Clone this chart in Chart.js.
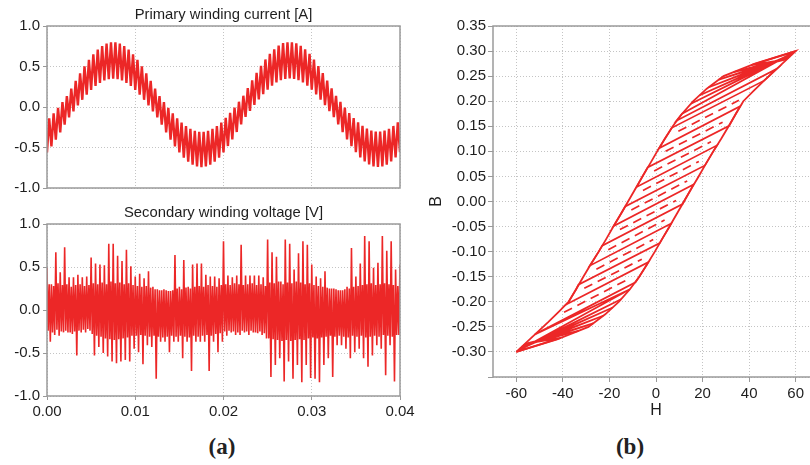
<!DOCTYPE html>
<html>
<head>
<meta charset="utf-8">
<script src="https://cdn.jsdelivr.net/npm/chart.js@4.4.0/dist/chart.umd.min.js"></script>
<style>
  html, body { margin: 0; padding: 0; background: #fff; overflow: hidden; }
  body { width: 810px; height: 465px; position: relative; }
  canvas { position: absolute; }
  .tag { position: absolute; font-family: "Liberation Serif", serif; font-weight: bold; font-size: 23px; color: #222; transform: translate(-50%, -50%); }
</style>
</head>
<body>
<canvas id="current" width="420" height="200" style="left:0;top:0"></canvas>
<canvas id="voltage" width="420" height="232" style="left:0;top:198px"></canvas>
<canvas id="loop" width="430" height="430" style="left:400px;top:0"></canvas>
<div class="tag" style="left:222px;top:447px">(a)</div>
<div class="tag" style="left:630px;top:447px">(b)</div>
<script>
// primary current: ripple troughs and peaks, one every 0.25 ms
const sampleStep = 0.00025;
const currentValues = [
  -0.561, -0.139, -0.487, -0.078, -0.404, -0.011, -0.314, 0.060, -0.219, 0.134,
  -0.128, 0.227, -0.053, 0.323, 0.020, 0.416, 0.089, 0.503, 0.153, 0.582,
  0.210, 0.651, 0.259, 0.708, 0.298, 0.752, 0.327, 0.783, 0.344, 0.797,
  0.350, 0.797, 0.344, 0.783, 0.327, 0.752, 0.298, 0.708, 0.259, 0.651,
  0.210, 0.582, 0.153, 0.503, 0.089, 0.416, 0.020, 0.323, -0.053, 0.227,
  -0.128, 0.134, -0.219, 0.060, -0.314, -0.011, -0.404, -0.078, -0.487, -0.139,
  -0.561, -0.192, -0.625, -0.236, -0.675, -0.270, -0.713, -0.294, -0.735, -0.305,
  -0.743, -0.305, -0.735, -0.294, -0.713, -0.270, -0.675, -0.236, -0.625, -0.192,
  -0.561, -0.134, -0.482, -0.073, -0.399, -0.006, -0.309, 0.065, -0.214, 0.139,
  -0.123, 0.232, -0.048, 0.328, 0.025, 0.421, 0.094, 0.508, 0.158, 0.587,
  0.215, 0.656, 0.264, 0.713, 0.303, 0.757, 0.332, 0.788, 0.347, 0.800,
  0.352, 0.800, 0.347, 0.786, 0.330, 0.756, 0.302, 0.712, 0.262, 0.655,
  0.214, 0.585, 0.156, 0.506, 0.092, 0.419, 0.023, 0.326, -0.050, 0.230,
  -0.125, 0.137, -0.216, 0.063, -0.311, -0.008, -0.401, -0.075, -0.484, -0.136,
  -0.558, -0.189, -0.622, -0.233, -0.672, -0.267, -0.710, -0.291, -0.733, -0.302,
  -0.741, -0.303, -0.733, -0.292, -0.711, -0.268, -0.673, -0.234, -0.623, -0.190,
  -0.559
];

// secondary voltage, per ripple cycle (0.5 ms): spike top, band low, band high, spike bottom
const cycleLength = 0.0005;
const voltageHigh = [
  0.49, 0.30, 0.67, 0.44, 0.73, 0.38, 0.38, 0.41, 0.38, 0.39,
  0.61, 0.54, 0.53, 0.52, 0.77, 0.77, 0.63, 0.57, 0.70, 0.51,
  0.39, 0.42, 0.37, 0.45, 0.27, 0.24, 0.23, 0.23, 0.22, 0.64,
  0.27, 0.58, 0.27, 0.53, 0.54, 0.54, 0.41, 0.39, 0.39, 0.37,
  0.80, 0.40, 0.38, 0.40, 0.76, 0.40, 0.40, 0.40, 0.40, 0.38,
  0.82, 0.67, 0.62, 0.33, 0.82, 0.77, 0.47, 0.66, 0.80, 0.76,
  0.53, 0.39, 0.37, 0.45, 0.25, 0.25, 0.23, 0.23, 0.27, 0.72,
  0.39, 0.54, 0.86, 0.80, 0.49, 0.55, 0.86, 0.69, 0.80, 0.47
];
const voltageLow = [
  -0.37, -0.29, -0.30, -0.26, -0.26, -0.28, -0.53, -0.26, -0.26, -0.24,
  -0.53, -0.43, -0.50, -0.54, -0.60, -0.62, -0.60, -0.58, -0.60, -0.45,
  -0.49, -0.63, -0.41, -0.43, -0.80, -0.37, -0.37, -0.49, -0.37, -0.37,
  -0.56, -0.37, -0.71, -0.37, -0.37, -0.37, -0.71, -0.37, -0.49, -0.37,
  -0.30, -0.26, -0.29, -0.29, -0.26, -0.29, -0.26, -0.27, -0.29, -0.33,
  -0.78, -0.64, -0.56, -0.83, -0.60, -0.80, -0.64, -0.84, -0.64, -0.79,
  -0.80, -0.84, -0.64, -0.56, -0.78, -0.41, -0.41, -0.45, -0.56, -0.49,
  -0.45, -0.56, -0.66, -0.53, -0.41, -0.45, -0.76, -0.41, -0.83, -0.29
];
const bandHigh = [
  0.30, 0.28, 0.31, 0.29, 0.30, 0.27, 0.29, 0.30, 0.28, 0.29,
  0.31, 0.30, 0.32, 0.30, 0.33, 0.31, 0.32, 0.30, 0.31, 0.29,
  0.28, 0.27, 0.28, 0.26, 0.24, 0.23, 0.24, 0.22, 0.23, 0.25,
  0.24, 0.26, 0.25, 0.27, 0.28, 0.27, 0.29, 0.28, 0.27, 0.29,
  0.30, 0.29, 0.31, 0.30, 0.29, 0.30, 0.31, 0.29, 0.30, 0.28,
  0.32, 0.31, 0.33, 0.30, 0.32, 0.31, 0.33, 0.32, 0.30, 0.31,
  0.29, 0.28, 0.27, 0.26, 0.25, 0.24, 0.23, 0.24, 0.25, 0.27,
  0.28, 0.29, 0.30, 0.31, 0.29, 0.30, 0.31, 0.30, 0.29, 0.28
];
const bandLow = [
  -0.24, -0.26, -0.23, -0.25, -0.24, -0.26, -0.25, -0.24, -0.23, -0.22,
  -0.28, -0.30, -0.31, -0.33, -0.34, -0.35, -0.34, -0.33, -0.32, -0.30,
  -0.30, -0.29, -0.30, -0.31, -0.30, -0.31, -0.32, -0.31, -0.30, -0.31,
  -0.30, -0.31, -0.32, -0.30, -0.31, -0.30, -0.29, -0.30, -0.28, -0.27,
  -0.25, -0.24, -0.25, -0.26, -0.24, -0.25, -0.24, -0.26, -0.25, -0.27,
  -0.33, -0.34, -0.35, -0.36, -0.35, -0.36, -0.35, -0.34, -0.35, -0.33,
  -0.32, -0.33, -0.32, -0.31, -0.30, -0.31, -0.30, -0.31, -0.32, -0.30,
  -0.31, -0.30, -0.32, -0.31, -0.30, -0.31, -0.29, -0.30, -0.31, -0.29
];
const voltageEnd = 0.53;

// B-H loop: outer boundary (up the left branch, down the right branch)
const outlineH = [
  -60, -55.4, -50.8, -46.2, -41.8, -37.5, -34.3, -31.2, -28.0, -24.6,
  -21.4, -18.3, -15.1, -12.0, -8.9, -5.8, -2.6, 0.5, 3.8, 7.2,
  11.2, 16.0, 21.8, 29.0, 42.5, 60,
  55.4, 50.8, 46.2, 41.8, 37.5, 34.3, 31.2, 28.0, 24.6, 21.4,
  18.3, 15.1, 12.0, 8.9, 5.8, 2.6, -0.5, -3.8, -7.2, -11.2,
  -16.0, -21.8, -29.0, -42.5, -60
];
const outlineB = [
  -0.300, -0.280, -0.260, -0.240, -0.220, -0.200, -0.175, -0.150, -0.125, -0.100,
  -0.075, -0.050, -0.025, 0.000, 0.025, 0.050, 0.075, 0.100, 0.125, 0.150,
  0.175, 0.200, 0.225, 0.250, 0.275, 0.300,
  0.280, 0.260, 0.240, 0.220, 0.200, 0.175, 0.150, 0.125, 0.100, 0.075,
  0.050, 0.025, 0.000, -0.025, -0.050, -0.075, -0.100, -0.125, -0.150, -0.175,
  -0.200, -0.225, -0.250, -0.275, -0.300
];

// minor-loop hatching traced from the top tip down to the bottom tip
const hatchH = [
  60.0, 40.9, 56.3, 33.3, 57.0, 27.0, 57.7, 22.7, 58.4, 18.8,
  59.1, 15.0, 59.5, 11.2, 8.8, 52.0, 50.8, 48.5, 46.4, 6.8,
  3.8, 1.3, 36.2, 34.3, 31.4, -3.6, -5.8, -8.3, 26.2, 24.6,
  21.4, 21.0, -13.2, -15.1, -18.2, 16.1, 15.1, 12.0, 11.4, -23.1,
  -24.6, -28.0, -28.4, 6.5, 5.8, 2.6, 1.6, -33.3, -34.3, -37.5,
  -38.8, -3.3, -3.8, -7.2, -8.8, -52.0, -11.2, -59.5, -15.0, -59.1,
  -18.8, -58.4, -22.7, -57.7, -27.0, -57.0, -33.3, -56.3, -40.9, -60.0
];
const hatchB = [
  0.300, 0.272, 0.284, 0.258, 0.287, 0.243, 0.290, 0.228, 0.293, 0.212,
  0.296, 0.195, 0.298, 0.175, 0.161, 0.265, 0.260, 0.250, 0.241, 0.147,
  0.125, 0.106, 0.190, 0.175, 0.151, 0.068, 0.050, 0.029, 0.112, 0.100,
  0.075, 0.072, -0.010, -0.025, -0.049, 0.034, 0.025, 0.000, -0.005, -0.088,
  -0.100, -0.125, -0.128, -0.044, -0.050, -0.075, -0.083, -0.166, -0.175, -0.200,
  -0.206, -0.121, -0.125, -0.150, -0.161, -0.265, -0.175, -0.298, -0.195, -0.296,
  -0.212, -0.293, -0.228, -0.290, -0.243, -0.287, -0.258, -0.284, -0.272, -0.300
];

// broken strokes between the hatch lines (null = gap)
const dashH = [9.6, 35.6, null, 4.1, 28.6, null, -0.8, 23.6, null, -5.6, 18.4, null, -10.6, 13.4, null,
  -15.5, 8.6, null, -20.5, 3.7, null, -25.6, -1.2, null, -30.8, -6.1, null, -39.5, -12.0];
const dashB = [0.140, 0.202, null, 0.100, 0.158, null, 0.061, 0.119, null, 0.022, 0.080, null, -0.017, 0.041, null,
  -0.056, 0.002, null, -0.096, -0.037, null, -0.135, -0.076, null, -0.173, -0.115, null, -0.221, -0.155];

const timeRange = [0, 0.04];
const timeStep = 0.01;
const signalRange = [-1, 1];
const signalStep = 0.5;
const hRange = [-70, 70];
const hTicks = [-60, -40, -20, 0, 20, 40, 60];
const bRange = [-0.35, 0.35];
const bStep = 0.05;

const red = '#ec2727';
const gridColor = '#c4c4c4';
const textColor = '#1e1e1e';
const fontFamily = '"Liberation Sans", Arial, sans-serif';
const tickFont = { family: fontFamily, size: 15 };

const currentPoints = currentValues.map((v, k) => ({ x: k * sampleStep, y: v }));

const voltagePoints = [];
voltageHigh.forEach((hi, j) => {
  const t0 = j * cycleLength;
  [hi, bandLow[j], bandHigh[j], voltageLow[j]].forEach((v, m) => {
    voltagePoints.push({ x: t0 + m * cycleLength / 4, y: v });
  });
});
voltagePoints.push({ x: timeRange[1], y: voltageEnd });

const pairUp = (hs, bs) => hs.map((h, k) => ({ x: h, y: bs[k] }));

// frame round the plot area and a title above it
const framePlugin = {
  id: 'frame',
  afterDraw(chart, args, opts) {
    const { ctx, chartArea: a } = chart;
    ctx.save();
    ctx.strokeStyle = '#9a9a9a';
    ctx.lineWidth = 1.5;
    ctx.strokeRect(a.left, a.top, a.right - a.left, a.bottom - a.top);
    if (opts.title) {
      ctx.fillStyle = textColor;
      ctx.font = '14.8px ' + fontFamily;
      ctx.textAlign = 'center';
      ctx.textBaseline = 'middle';
      ctx.fillText(opts.title, (a.left + a.right) / 2, a.top - 11);
    }
    ctx.restore();
  }
};

const baseOptions = (title) => ({
  responsive: false,
  animation: false,
  events: [],
  plugins: { legend: { display: false }, tooltip: { enabled: false }, frame: { title: title } }
});

const signalAxis = {
  min: signalRange[0],
  max: signalRange[1],
  ticks: { stepSize: signalStep, font: tickFont, color: textColor, padding: 3, autoSkip: false, callback: v => v.toFixed(1) },
  grid: { color: gridColor, tickColor: '#999', tickLength: 4 },
  border: { display: false, dash: [1, 2] },
  afterFit: s => { s.width = 47; }
};

let optsA = baseOptions('Primary winding current [A]');
optsA.layout = { padding: { top: 26, right: 20, bottom: 0, left: 0 } };
optsA.scales = {
  x: {
    type: 'linear', min: timeRange[0], max: timeRange[1],
    ticks: { display: false, stepSize: timeStep },
    grid: { color: gridColor, drawTicks: false },
    border: { display: false, dash: [1, 2] },
    afterFit: s => { s.height = 2; }
  },
  y: signalAxis
};

new Chart(document.getElementById('current'), {
  type: 'line',
  data: { datasets: [{ data: currentPoints, borderColor: red, borderWidth: 2.4, pointRadius: 0, tension: 0 }] },
  options: optsA,
  plugins: [framePlugin]
});

let optsB = baseOptions('Secondary winding voltage [V]');
optsB.layout = { padding: { top: 26, right: 20, bottom: 0, left: 0 } };
optsB.scales = {
  x: {
    type: 'linear', min: timeRange[0], max: timeRange[1],
    ticks: { stepSize: timeStep, font: tickFont, color: textColor, padding: 3, maxRotation: 0, autoSkip: false, callback: v => v.toFixed(2) },
    grid: { color: gridColor, tickColor: '#999', tickLength: 4 },
    border: { display: false, dash: [1, 2] },
    afterFit: s => { s.height = 34; }
  },
  y: signalAxis
};

new Chart(document.getElementById('voltage'), {
  type: 'line',
  data: { datasets: [{ data: voltagePoints, borderColor: red, borderWidth: 1.6, pointRadius: 0, tension: 0 }] },
  options: optsB,
  plugins: [framePlugin]
});

let optsC = baseOptions(null);
optsC.layout = { padding: { top: 26, right: 11, bottom: 0, left: 0 } };
optsC.scales = {
  x: {
    type: 'linear', min: hRange[0], max: hRange[1],
    afterBuildTicks: s => { s.ticks = hTicks.map(v => ({ value: v })); },
    ticks: { font: tickFont, color: textColor, padding: 3, maxRotation: 0, autoSkip: false },
    grid: { color: gridColor, tickColor: '#999', tickLength: 5 },
    border: { display: false, dash: [1, 2] },
    title: { display: true, text: 'H', font: { family: fontFamily, size: 16 }, color: textColor, padding: { top: 0, bottom: 10 } },
    afterFit: s => { s.height = 53; }
  },
  y: {
    min: bRange[0], max: bRange[1],
    ticks: { stepSize: bStep, font: tickFont, color: textColor, padding: 2, autoSkip: false, callback: v => v < -0.34 ? '' : v.toFixed(2) },
    grid: { color: gridColor, tickColor: '#999', tickLength: 5 },
    border: { display: false, dash: [1, 2] },
    title: { display: true, text: 'B', font: { family: fontFamily, size: 16 }, color: textColor, padding: { top: 27, bottom: 0 } },
    afterFit: s => { s.width = 93; }
  }
};

new Chart(document.getElementById('loop'), {
  type: 'scatter',
  data: {
    datasets: [
      { data: pairUp(outlineH, outlineB), showLine: true, borderColor: red, borderWidth: 1.8, pointRadius: 0 },
      { data: pairUp(hatchH, hatchB), showLine: true, borderColor: red, borderWidth: 1.7, pointRadius: 0 },
      { data: pairUp(dashH, dashB), showLine: true, spanGaps: false, borderColor: red, borderWidth: 1.7, borderDash: [9, 6], pointRadius: 0 }
    ]
  },
  options: optsC,
  plugins: [framePlugin]
});
</script>
</body>
</html>
